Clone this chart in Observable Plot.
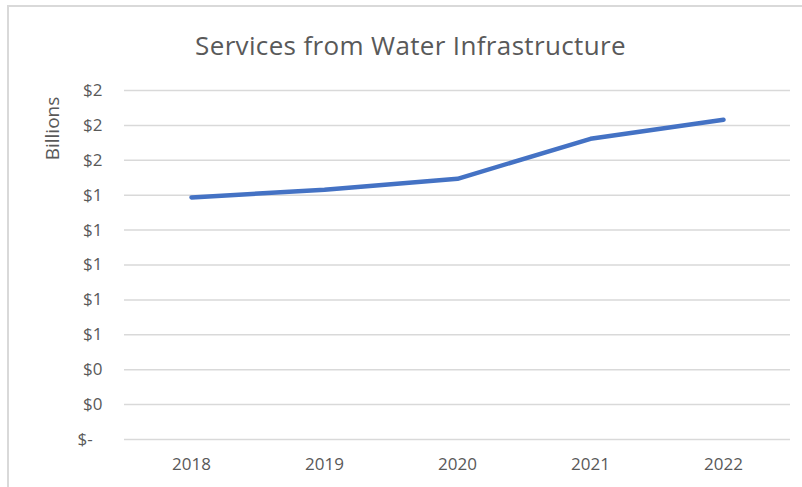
<!DOCTYPE html>
<html><head><meta charset="utf-8">
<script src="https://cdn.jsdelivr.net/npm/d3@7"></script>
<script src="https://cdn.jsdelivr.net/npm/@observablehq/plot@0.6"></script>
<style>
body{margin:0;background:#fff;font-family:"Open Sans",sans-serif;}
#wrap{position:relative;width:802px;height:487px;overflow:hidden;background:#fff;}
#frame{position:absolute;left:7px;top:5px;width:900px;height:600px;border-left:2px solid #d9d9d9;border-top:2px solid #d9d9d9;}
#title{position:absolute;left:0;top:32px;width:821px;text-align:center;font-size:26px;line-height:26px;letter-spacing:0.35px;color:#595959;white-space:nowrap;}
#chart{position:absolute;left:0;top:70px;}
</style>
</head><body>
<div id="wrap">
  <div id="frame"></div>
  <div id="title">Services from Water Infrastructure</div>
  <div id="chart"></div>
</div>
<script>
const years = ["2018", "2019", "2020", "2021", "2022"];
const values = [1.387, 1.431, 1.494, 1.723, 1.832];
const yTicks = [0, 0.2, 0.4, 0.6, 0.8, 1.0, 1.2, 1.4, 1.6, 1.8, 2.0];
const yTickLabels = ["$-\u2007", "$0", "$0", "$1", "$1", "$1", "$1", "$1", "$2", "$2", "$2"];
const yAxisTitle = "Billions";

const data = years.map((year, i) => ({year, value: values[i]}));
const labelFor = d => yTickLabels[yTicks.findIndex(t => Math.abs(t - d) < 1e-9)];

const chart = Plot.plot({
  width: 802, height: 417,
  marginLeft: 124, marginRight: 12, marginTop: 20, marginBottom: 48,
  style: {fontFamily: "'Open Sans', sans-serif", fontSize: "17px", color: "#595959", background: "transparent"},
  x: {type: "point", domain: years, padding: 0.5, label: null},
  y: {domain: [0, 2], label: null},
  marks: [
    Plot.gridY(yTicks, {stroke: "#d9d9d9", strokeOpacity: 1, strokeWidth: 1.5}),
    Plot.axisY(yTicks, {tickSize: 0, tickPadding: 22, tickFormat: labelFor, label: null}),
    Plot.axisX({tickSize: 0, tickPadding: 18, label: null}),
    Plot.line(data, {x: "year", y: "value", stroke: "#4472C4", strokeWidth: 4.5, strokeLinecap: "round", strokeLinejoin: "round"}),
    Plot.text([yAxisTitle], {frameAnchor: "top-left", textAnchor: "middle", lineAnchor: "middle", dx: -72, dy: 38, rotate: -90, fontSize: 19, fill: "#595959"})
  ]
});
document.getElementById("chart").appendChild(chart);
</script>
</body></html>
